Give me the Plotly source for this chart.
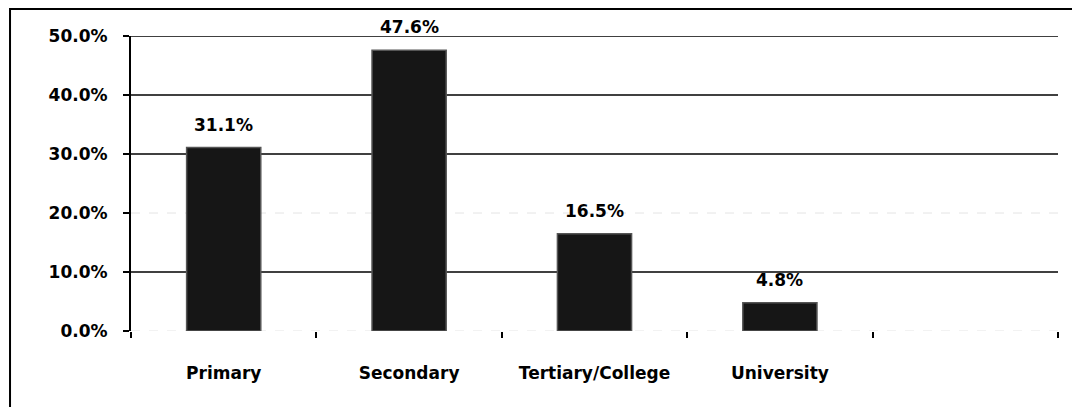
import plotly.graph_objects as go

categories = ["Primary", "Secondary", "Tertiary/College", "University", " "]
values = [31.1, 47.6, 16.5, 4.8, None]
labels = ["31.1%", "47.6%", "16.5%", "4.8%", ""]
y_ticks = [0, 10, 20, 30, 40, 50]
y_tick_text = ["0.0%", "10.0%", "20.0%", "30.0%", "40.0%", "50.0%"]
grid_dark = [10, 30, 40, 50]
grid_faint = [0, 20]

FONT = "DejaVu Sans"

fig = go.Figure()
fig.add_trace(go.Bar(
    x=categories, y=values,
    marker=dict(color="#161616", line=dict(color="#555555", width=1.5)),
    width=0.4,
))

for c, v, t in zip(categories, values, labels):
    if v is None:
        continue
    fig.add_annotation(x=c, y=v, text=t, showarrow=False, yanchor="bottom", yshift=11,
                       font=dict(family=FONT, size=17, color="black", weight="bold"))

shapes = []
for v in grid_dark:
    shapes.append(dict(type="line", xref="paper", yref="y", x0=-0.007, x1=1.0, y0=v, y1=v,
                       line=dict(color="black", width=1.5), layer="below"))
for v in grid_faint:
    shapes.append(dict(type="line", xref="paper", yref="y", x0=0, x1=1.0, y0=v, y1=v,
                       line=dict(color="#e4e4e4", width=1, dash="dash"), layer="below"))
# outer frame
shapes.append(dict(type="rect", xref="paper", yref="paper", x0=-0.1305, x1=1.06, y0=-0.35, y1=1.0915,
                   line=dict(color="black", width=2)))

fig.update_layout(
    width=1080, height=407,
    margin=dict(l=123, r=30, t=28, b=84, autoexpand=False),
    paper_bgcolor="white", plot_bgcolor="white",
    showlegend=False, shapes=shapes,
    font=dict(family=FONT, color="black"),
)
fig.update_xaxes(
    type="category", showgrid=False, showline=False, zeroline=False, automargin=False,
    ticks="outside", tickson="boundaries", ticklen=6, tickcolor="black", tickwidth=2,
    tickfont=dict(family=FONT, size=17, color="black", weight="bold"),
    ticklabelstandoff=30,
)
fig.update_yaxes(
    range=[0, 50], tickvals=y_ticks, ticktext=y_tick_text, automargin=False,
    showgrid=False, zeroline=False, showline=True, linecolor="black", linewidth=2,
    ticks="outside", ticklen=6, tickcolor="black", tickwidth=1.5,
    tickfont=dict(family=FONT, size=17, color="black", weight="bold"),
    ticklabelstandoff=12,
)

fig.write_html("out.html")
